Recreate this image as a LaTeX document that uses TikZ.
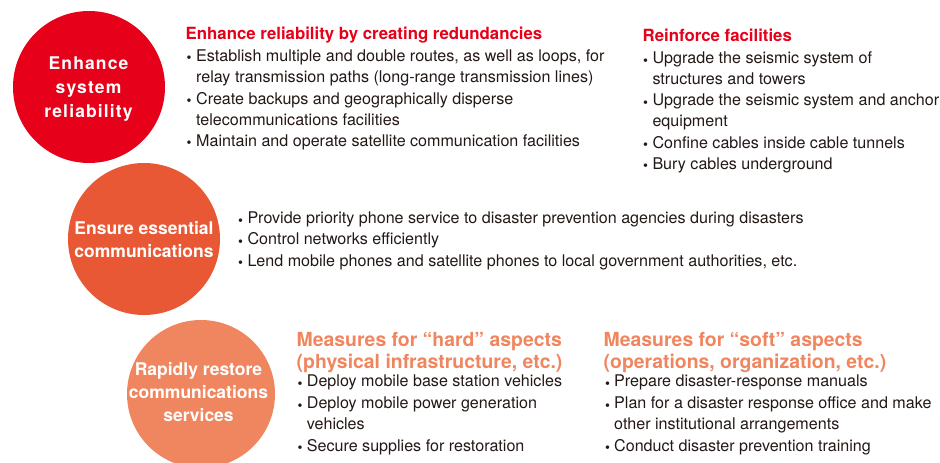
\documentclass[tikz,border=0pt]{standalone}
\usepackage{fontspec}
\setmainfont{TeX Gyre Heros}
\definecolor{cRed}{HTML}{E60019}
\definecolor{cOrange}{HTML}{E95835}
\definecolor{cSalmon}{HTML}{F0865F}
\definecolor{cText}{HTML}{231815}
\begin{document}
\begin{tikzpicture}[x=1pt,y=-1pt,
  circ/.style={circle,inner sep=0pt,minimum size=#1},
  ctext/.style={anchor=base,inner sep=0pt,text=white,font=\fontsize{17.5}{20}\selectfont\bfseries},
  ctextw/.style={anchor=base,inner sep=0pt,text=white,font=\fontsize{17.5}{20}\selectfont\bfseries\addfontfeature{LetterSpace=6.5}},
  head/.style={anchor=base west,inner sep=0pt,text=#1,font=\fontsize{16.8}{20}\selectfont\bfseries},
  headb/.style={anchor=base west,inner sep=0pt,text=cSalmon,font=\fontsize{19.4}{20}\selectfont\bfseries},
  body/.style={anchor=base west,inner sep=0pt,text=cText,font=\fontsize{16.1}{20}\selectfont},
  bul/.style={anchor=base west,inner sep=0pt,text=cText,font=\fontsize{14}{20}\selectfont,yshift=-1.8pt},
]
\useasboundingbox (0,0) rectangle (940,463);
\begin{scope}
\clip (0,0) rectangle (940,463);
\node[circ=152pt,fill=cRed] (c1) at (89,87) {};
\node[circ=152pt,fill=cOrange] (c2) at (144,239) {};
\node[circ=148pt,fill=cSalmon] (c3) at (201,394) {};
\end{scope}
% circle texts
\node[ctextw] (c1a) at (88.5,69.5) {Enhance};
\node[ctextw] (c1b) at (88.5,93.5) {system};
\node[ctextw] (c1c) at (88.5,117.5) {reliability};
\node[ctext] (c2a) at (144,234) {Ensure essential};
\node[ctext] (c2b) at (144,257.5) {communications};
\node[ctext] (c3a) at (198.5,375) {Rapidly restore};
\node[ctext] (c3b) at (198.5,398.5) {communications};
\node[ctext] (c3c) at (198.5,421.5) {services};
% block 1
\node[head=cRed] (h1) at (185.5,39.3) {Enhance reliability by creating redundancies};
\node[bul] (b11) at (186.5,61) {•};
\node[body] (t11) at (196,61) {Establish multiple and double routes, as well as loops, for};
\node[body] (t12) at (196,82.3) {relay transmission paths (long-range transmission lines)};
\node[bul] (b12) at (186.5,104) {•};
\node[body] (t13) at (196,104) {Create backups and geographically disperse};
\node[body] (t14) at (196,125) {telecommunications facilities};
\node[bul] (b13) at (186.5,146) {•};
\node[body] (t15) at (196,146) {Maintain and operate satellite communication facilities};
% block 2
\node[head=cRed] (h2) at (642.5,41.7) {Reinforce facilities};
\node[bul] (b21) at (643,63.5) {•};
\node[body] (t21) at (652.3,63.5) {Upgrade the seismic system of};
\node[body] (t22) at (652.3,84.5) {structures and towers};
\node[bul] (b22) at (643,105.5) {•};
\node[body] (t23) at (652.3,105.5) {Upgrade the seismic system and anchor};
\node[body] (t24) at (652.3,126.5) {equipment};
\node[bul] (b23) at (643,148) {•};
\node[body] (t25) at (652.3,148) {Confine cables inside cable tunnels};
\node[bul] (b24) at (643,169) {•};
\node[body] (t26) at (652.3,169) {Bury cables underground};
% block 3
\node[bul] (b31) at (238,223.3) {•};
\node[body] (t31) at (247.3,223.3) {Provide priority phone service to disaster prevention agencies during disasters};
\node[bul] (b32) at (238,244.5) {•};
\node[body] (t32) at (247.3,244.5) {Control networks efficiently};
\node[bul] (b33) at (238,266) {•};
\node[body] (t33) at (247.3,266) {Lend mobile phones and satellite phones to local government authorities, etc.};
% block 4
\node[headb] (h4a) at (296.5,346.7) {Measures for “hard” aspects};
\node[headb] (h4b) at (296.5,368) {(physical infrastructure, etc.)};
\node[bul] (b41) at (297.5,386.7) {•};
\node[body] (t41) at (306.7,386.7) {Deploy mobile base station vehicles};
\node[bul] (b42) at (297.5,408.3) {•};
\node[body] (t42) at (306.7,408.3) {Deploy mobile power generation};
\node[body] (t43) at (306.7,429.3) {vehicles};
\node[bul] (b43) at (297.5,451) {•};
\node[body] (t44) at (306.7,451) {Secure supplies for restoration};
% block 5
\node[headb] (h5a) at (603.5,346.7) {Measures for “soft” aspects};
\node[headb] (h5b) at (603.5,368) {(operations, organization, etc.)};
\node[bul] (b51) at (605,386.7) {•};
\node[body] (t51) at (614,386.7) {Prepare disaster-response manuals};
\node[bul] (b52) at (605,408.3) {•};
\node[body] (t52) at (614,408.3) {Plan for a disaster response office and make};
\node[body] (t53) at (614,429.3) {other institutional arrangements};
\node[bul] (b53) at (605,451) {•};
\node[body] (t54) at (614,451) {Conduct disaster prevention training};
\end{tikzpicture}
\end{document}
